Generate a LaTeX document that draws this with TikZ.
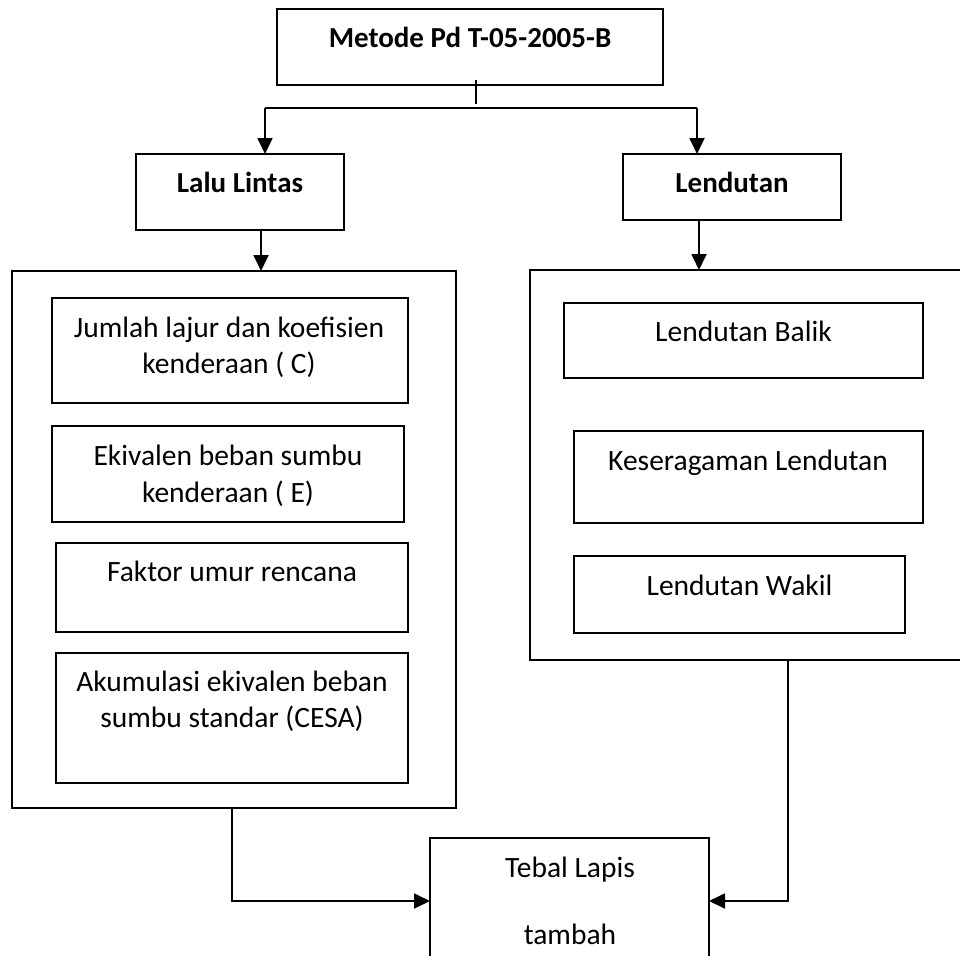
\documentclass[tikz,border=0pt]{standalone}
\usepackage{fontspec}
\setmainfont{Carlito}
\usetikzlibrary{arrows.meta}
\begin{document}
\begin{tikzpicture}[x=1bp,y=-1bp,
  box/.style={draw,line width=1.8bp,inner sep=0pt,outer sep=0pt},
  txt/.style={anchor=base,inner sep=0pt,font=\fontsize{29.5bp}{36bp}\selectfont},
  btxt/.style={anchor=base,inner sep=0pt,font=\fontsize{29bp}{34bp}\selectfont\bfseries},
  conn/.style={line width=1.8bp},
  arr/.style={line width=1.8bp,-{Triangle[width=15bp,length=16bp]}}]
\useasboundingbox (0,0) rectangle (960,956);
% boxes
\node[box,minimum width=386bp,minimum height=76bp] (top) at (470,47) {};
\node[box,minimum width=208bp,minimum height=76bp] (lalu) at (240,192) {};
\node[box,minimum width=218bp,minimum height=66bp] (lend) at (732,187) {};
\node[box,minimum width=444bp,minimum height=537bp] (bigL) at (234,539.5) {};
\node[box,minimum width=440bp,minimum height=390bp] (bigR) at (750,465) {};
\node[box,minimum width=356bp,minimum height=105bp] (b1) at (230,350.5) {};
\node[box,minimum width=352bp,minimum height=96bp] (b2) at (228,474) {};
\node[box,minimum width=352bp,minimum height=89bp] (b3) at (232,587.5) {};
\node[box,minimum width=352bp,minimum height=130bp] (b4) at (232,718) {};
\node[box,minimum width=359bp,minimum height=75bp] (r1) at (743.5,340.5) {};
\node[box,minimum width=349bp,minimum height=92bp] (r2) at (748.5,477) {};
\node[box,minimum width=331bp,minimum height=77bp] (r3) at (739.5,594.5) {};
\node[box,minimum width=279bp,minimum height=130bp] (bot) at (569.5,903) {};
% texts
\node[btxt] (ttop) at (470,47) {Metode Pd T-05-2005-B};
\node[btxt] (tlalu) at (240,192) {Lalu Lintas};
\node[btxt] (tlend) at (732,192) {Lendutan};
\node[txt] (tb1a) at (229,337) {Jumlah lajur dan koefisien};
\node[txt] (tb1b) at (229,373) {kenderaan ( C)};
\node[txt] (tb2a) at (228,465) {Ekivalen beban sumbu};
\node[txt] (tb2b) at (228,502) {kenderaan ( E)};
\node[txt] (tb3) at (232,581) {Faktor umur rencana};
\node[txt] (tb4a) at (232,691) {Akumulasi ekivalen beban};
\node[txt] (tb4b) at (232,727) {sumbu standar (CESA)};
\node[txt] (tr1) at (743.5,341) {Lendutan Balik};
\node[txt] (tr2) at (748,470) {Keseragaman Lendutan};
\node[txt] (tr3) at (739.5,595) {Lendutan Wakil};
\node[txt] (tbota) at (570,877) {Tebal Lapis};
\node[txt] (tbotb) at (570,944) {tambah};
% connectors
\coordinate (tk1) at (476,80);
\coordinate (tk2) at (476,104);
\coordinate (hl) at (265,108);
\coordinate (hr) at (697,108);
\draw[conn] (tk1) -- (tk2);
\draw[conn] (hl) -- (hr);
\draw[arr] (hl) -- (hl |- lalu.north);
\draw[arr] (hr) -- (hr |- lend.north);
\coordinate (xl) at (261,0);
\coordinate (xr) at (699,0);
\draw[arr] (xl |- lalu.south) -- (xl |- bigL.north);
\draw[arr] (xr |- lend.south) -- (xr |- bigR.north);
\coordinate (yl) at (0,901);
\coordinate (cl) at (232,0);
\coordinate (cr) at (788,0);
\draw[arr] (cl |- bigL.south) -- (cl |- yl) -- (bot.west |- yl);
\draw[arr] (cr |- bigR.south) -- (cr |- yl) -- (bot.east |- yl);
\end{tikzpicture}
\end{document}
